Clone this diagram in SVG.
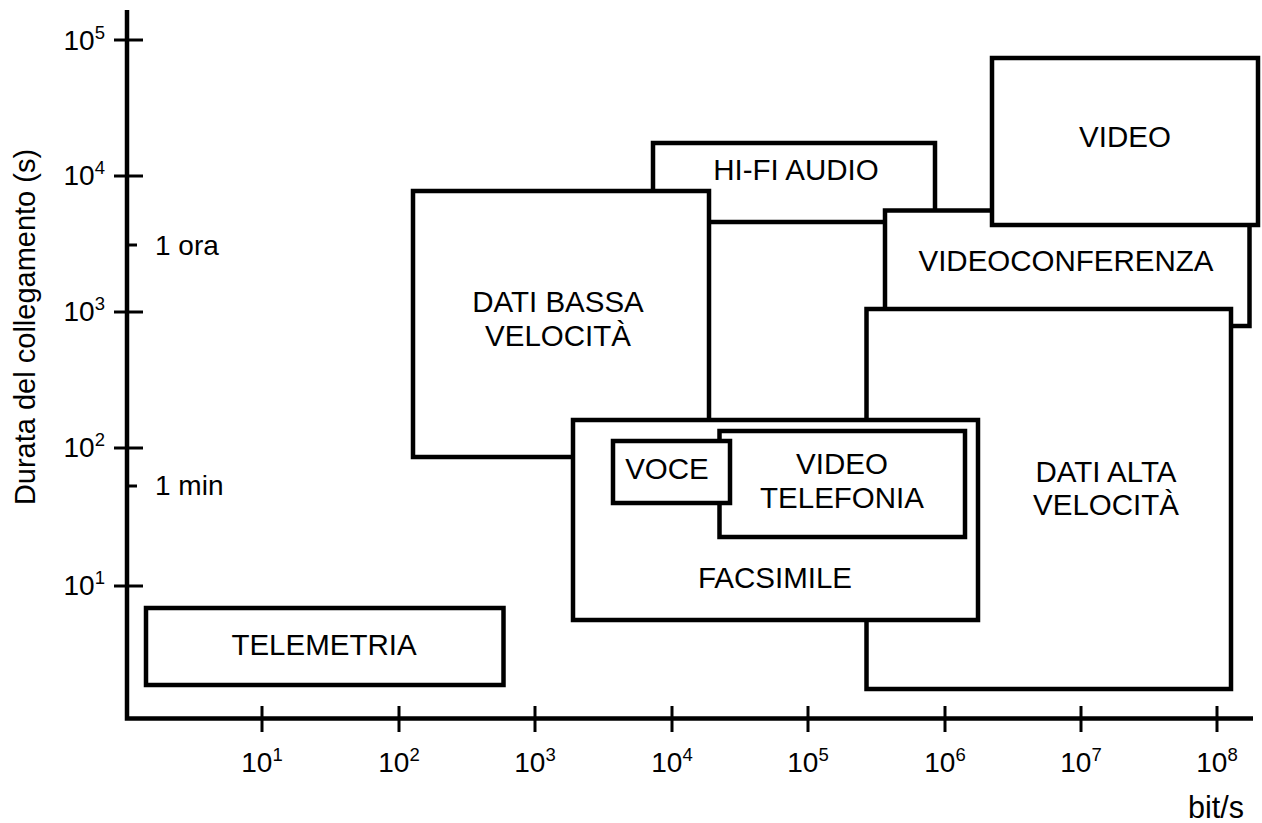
<svg xmlns="http://www.w3.org/2000/svg" width="1262" height="823" viewBox="0 0 1262 823">
<style>
text{font-family:"Liberation Sans",Arial,sans-serif;font-size:28px;fill:#000}
.lbl{text-anchor:middle}
.box{fill:#fff;stroke:#000;stroke-width:4.5}
.box + text, .box ~ text{font-size:29.5px}
.axis{stroke:#000;stroke-width:4.5;fill:none}
.tick{stroke:#000;stroke-width:3}
.sup{font-size:18.5px}
.title{font-size:29px}
</style>
<rect width="1262" height="823" fill="#fff"/>
<g id="axes">
<path class="axis" d="M127,10 V718.5 H1253"/>
<g class="tick">
<line x1="114" y1="40" x2="143" y2="40"/>
<line x1="114" y1="176" x2="143" y2="176"/>
<line x1="127" y1="245" x2="137" y2="245"/>
<line x1="114" y1="312" x2="143" y2="312"/>
<line x1="114" y1="448" x2="143" y2="448"/>
<line x1="127" y1="486" x2="137" y2="486"/>
<line x1="114" y1="586" x2="143" y2="586"/>
<line x1="262" y1="706" x2="262" y2="732"/>
<line x1="399" y1="706" x2="399" y2="732"/>
<line x1="535" y1="706" x2="535" y2="732"/>
<line x1="672" y1="706" x2="672" y2="732"/>
<line x1="808" y1="706" x2="808" y2="732"/>
<line x1="945" y1="706" x2="945" y2="732"/>
<line x1="1081" y1="706" x2="1081" y2="732"/>
<line x1="1217" y1="706" x2="1217" y2="732"/>
</g>
<g text-anchor="end">
<text x="105" y="50">10<tspan class="sup" dy="-11">5</tspan></text>
<text x="105" y="185">10<tspan class="sup" dy="-11">4</tspan></text>
<text x="105" y="321">10<tspan class="sup" dy="-11">3</tspan></text>
<text x="105" y="457">10<tspan class="sup" dy="-11">2</tspan></text>
<text x="105" y="595">10<tspan class="sup" dy="-11">1</tspan></text>
</g>
<text x="155" y="255">1 ora</text>
<text x="155" y="495">1 min</text>
<g class="lbl">
<text x="262" y="772">10<tspan class="sup" dy="-11">1</tspan></text>
<text x="399" y="772">10<tspan class="sup" dy="-11">2</tspan></text>
<text x="535" y="772">10<tspan class="sup" dy="-11">3</tspan></text>
<text x="672" y="772">10<tspan class="sup" dy="-11">4</tspan></text>
<text x="808" y="772">10<tspan class="sup" dy="-11">5</tspan></text>
<text x="945" y="772">10<tspan class="sup" dy="-11">6</tspan></text>
<text x="1081" y="772">10<tspan class="sup" dy="-11">7</tspan></text>
<text x="1217" y="772">10<tspan class="sup" dy="-11">8</tspan></text>
</g>
<text x="1188" y="818" style="font-size:30.5px">bit/s</text>
<text class="lbl title" transform="translate(35,327) rotate(-90)">Durata del collegamento (s)</text>
</g>
<g id="connectors"></g>
<g id="hifi-audio"><rect class="box" x="653" y="143" width="282" height="79"/><text class="lbl" x="796" y="180">HI-FI AUDIO</text></g>
<g id="dati-bassa"><rect class="box" x="413" y="191" width="296" height="266"/><text class="lbl" x="558" y="312">DATI BASSA</text><text class="lbl" x="558" y="346">VELOCITÀ</text></g>
<g id="videoconferenza"><rect class="box" x="885" y="210.5" width="364.5" height="115.5"/><text class="lbl" x="1066" y="271">VIDEOCONFERENZA</text></g>
<g id="video"><rect class="box" x="992" y="58" width="266" height="167"/><text class="lbl" x="1125" y="147">VIDEO</text></g>
<g id="dati-alta"><rect class="box" x="866.5" y="309" width="364.5" height="380"/><text class="lbl" x="1106" y="482">DATI ALTA</text><text class="lbl" x="1106" y="515">VELOCITÀ</text></g>
<g id="facsimile"><rect class="box" x="573" y="420" width="405" height="200"/><text class="lbl" x="775" y="588">FACSIMILE</text></g>
<g id="videotelefonia"><rect class="box" x="719.5" y="431" width="245.5" height="106"/><text class="lbl" x="842" y="474">VIDEO</text><text class="lbl" x="842" y="508">TELEFONIA</text></g>
<g id="voce"><rect class="box" x="613" y="441" width="117" height="62"/><text class="lbl" x="667" y="479">VOCE</text></g>
<g id="telemetria"><rect class="box" x="146" y="608" width="357.5" height="77"/><text class="lbl" x="324" y="655">TELEMETRIA</text></g>
</svg>
